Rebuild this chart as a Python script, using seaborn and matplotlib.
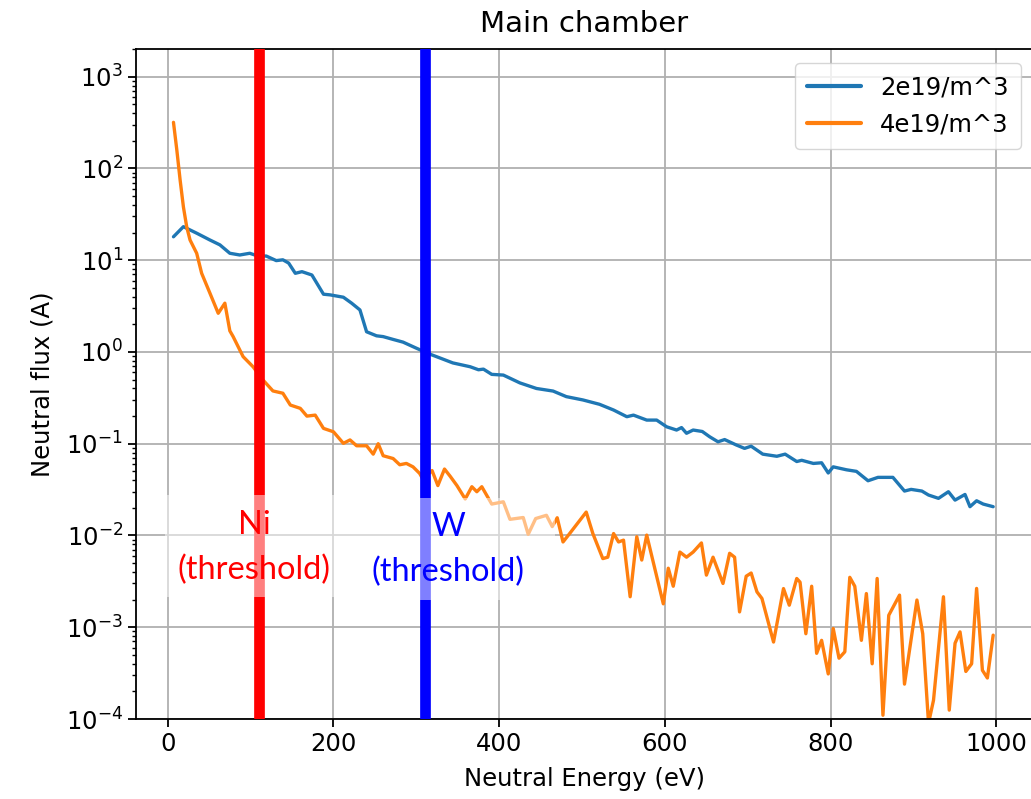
import matplotlib
matplotlib.use("Agg")
import matplotlib.pyplot as plt
from matplotlib.patches import Rectangle
from matplotlib.ticker import NullFormatter
import numpy as np
import pandas as pd
import seaborn as sns

# Neutral energy spectra in the main chamber for two upstream densities
energy_2e19 = [7, 19, 25, 35, 51, 63, 75, 87, 99, 109, 119, 131, 139, 146, 154, 162,
               174, 188, 196, 212, 222, 232, 240, 252, 260, 272, 284, 300, 316, 330,
               344, 365, 375, 381, 391, 405, 425, 445, 465, 481, 501, 521, 538, 554,
               562, 578, 590, 602, 614, 620, 626, 634, 645, 654, 664, 672, 686, 696,
               704, 718, 735, 745, 759, 765, 779, 789, 797, 803, 819, 831, 845, 857,
               875, 889, 897, 910, 918, 930, 942, 950, 962, 968, 976, 984, 996]
flux_2e19 = [18, 23.2, 21.8, 19.7, 16.6, 14.7, 11.9, 11.4, 11.9, 11.1, 11.1, 9.9, 10.1,
             9.3, 7.2, 7.5, 6.9, 4.26, 4.19, 3.95, 3.4, 2.87, 1.66, 1.5, 1.47, 1.37,
             1.28, 1.1, 0.95, 0.85, 0.76, 0.69, 0.64, 0.65, 0.57, 0.56, 0.46, 0.40,
             0.375, 0.326, 0.30, 0.269, 0.233, 0.197, 0.205, 0.181, 0.181, 0.153,
             0.141, 0.15, 0.13, 0.141, 0.136, 0.119, 0.105, 0.111, 0.097, 0.089,
             0.094, 0.077, 0.073, 0.077, 0.064, 0.066, 0.061, 0.062, 0.048, 0.056,
             0.052, 0.050, 0.0395, 0.043, 0.043, 0.0305, 0.0318, 0.0305, 0.0276,
             0.0254, 0.030, 0.0243, 0.028, 0.0206, 0.0239, 0.022, 0.0206]

energy_4e19 = [7, 11, 15, 19, 23, 27, 35, 41, 51, 61, 69, 75, 79, 91, 103, 115, 127,
               139, 148, 160, 168, 178, 188, 200, 212, 220, 228, 240, 248, 254, 260,
               272, 280, 288, 296, 304, 308, 319, 326, 334, 341, 349, 359, 367, 373,
               379, 391, 405, 413, 429, 435, 444, 457, 464, 470, 477, 485, 505, 513,
               525, 531, 538, 544, 550, 558, 566, 572, 578, 598, 604, 610, 618, 626,
               634, 644, 650, 658, 670, 678, 684, 690, 698, 704, 711, 717, 731, 743,
               750, 759, 763, 770, 777, 783, 789, 797, 803, 810, 817, 823, 829, 837,
               843, 850, 856, 863, 870, 883, 889, 904, 911, 918, 924, 936, 943, 950,
               956, 963, 970, 976, 983, 989, 996]
flux_4e19 = [318, 160, 75, 38, 23, 16.6, 11.9, 7.2, 4.37, 2.64, 3.4, 1.7, 1.47, 0.89,
             0.69, 0.495, 0.376, 0.355, 0.264, 0.243, 0.2, 0.205, 0.147, 0.135, 0.101,
             0.11, 0.095, 0.095, 0.077, 0.10, 0.074, 0.069, 0.059, 0.061, 0.056,
             0.0475, 0.041, 0.051, 0.035, 0.053, 0.044, 0.035, 0.025, 0.034, 0.030,
             0.034, 0.022, 0.0233, 0.015, 0.0157, 0.0103, 0.0153, 0.0166, 0.0125,
             0.0156, 0.0085, 0.0105, 0.018, 0.0105, 0.0056, 0.0058, 0.0105, 0.0085,
             0.0089, 0.00215, 0.0097, 0.0054, 0.0101, 0.0018, 0.0044, 0.0028, 0.0066,
             0.0058, 0.0066, 0.0083, 0.0037, 0.0058, 0.0030, 0.0064, 0.0058, 0.00147,
             0.0036, 0.0039, 0.00243, 0.00206, 0.00069, 0.00264, 0.00174, 0.0034,
             0.0031, 0.00085, 0.0028, 0.00052, 0.00072, 0.00031, 0.00097, 0.00046,
             0.00054, 0.0035, 0.0028, 0.00072, 0.00233, 0.0004, 0.0034, 0.00011,
             0.00135, 0.00224, 0.00024, 0.00198, 0.00085, 0.00009, 0.00016, 0.00215,
             0.000125, 0.00067, 0.00089, 0.00033, 0.0004, 0.00265, 0.00034, 0.00028,
             0.00082]

series_labels = ["2e19/m^3", "4e19/m^3"]
series_colors = ["#1f77b4", "#ff7f0e"]

# Sputtering thresholds (eV)
threshold_names = ["Ni", "W"]
threshold_energy = [110, 310]
threshold_colors = ["red", "blue"]

df = pd.concat([
    pd.DataFrame({"energy": energy_2e19, "flux": flux_2e19, "density": series_labels[0]}),
    pd.DataFrame({"energy": energy_4e19, "flux": flux_4e19, "density": series_labels[1]}),
], ignore_index=True)

sns.set_theme(style="ticks", rc={
    "axes.edgecolor": "black",
    "axes.linewidth": 1.3,
    "axes.labelcolor": "black",
    "xtick.color": "black",
    "ytick.color": "black",
    "xtick.major.size": 5.6,
    "ytick.major.size": 5.6,
    "ytick.minor.size": 3.2,
    "xtick.major.width": 1.3,
    "ytick.major.width": 1.3,
    "ytick.minor.width": 1.0,
    "text.color": "black",
})
plt.rcParams["font.family"] = ["DejaVu Sans"]

fig = plt.figure(figsize=(10.31, 7.99), dpi=100)
ax = fig.add_axes([0.1316, 0.1001, 0.8703, 0.8385])

sns.lineplot(data=df, x="energy", y="flux", hue="density", palette=series_colors,
             estimator=None, sort=False, linewidth=2.4, ax=ax)

for e, c in zip(threshold_energy, threshold_colors):
    ax.axvline(e, color=c, linewidth=7.7, zorder=3)

ax.set_yscale("log")
ax.set_ylim(1e-4, 2e3)
ax.set_xlim(-38.6, 1044)
ax.set_xticks([0, 200, 400, 600, 800, 1000])
ax.yaxis.set_minor_formatter(NullFormatter())
ax.grid(True, which="major", color="#b0b0b0", linewidth=1.3)
ax.tick_params(labelsize=17.5, labelcolor="black", color="black", which="both")

ax.set_xlabel("Neutral Energy (eV)", fontsize=17.5, color="black", labelpad=8)
ax.set_ylabel("Neutral flux (A)", fontsize=17.5, color="black", labelpad=8)
ax.set_title("Main chamber", fontsize=21, color="black", pad=12)

old = ax.get_legend()
handles = old.legend_handles
labels = [t.get_text() for t in old.get_texts()]
for h in handles:
    h.set_linewidth(3.0)
ax.legend(handles, labels, loc="upper right", fontsize=17.5, framealpha=0.8,
          handlelength=2.2, borderpad=0.5, labelspacing=0.55, borderaxespad=0,
          bbox_to_anchor=(0.9866, 0.979))

# Label boxes for the thresholds: translucent white panels with text
box_specs = [(165, 495, 178, 102), (343, 498, 212, 102)]
W, H = 1031, 799
for (x0, y0, w, h) in box_specs:
    fig.add_artist(Rectangle((x0 / W, 1 - (y0 + h) / H), w / W, h / H,
                             transform=fig.transFigure, facecolor="white",
                             alpha=0.5, edgecolor="none", zorder=5))

label_pos = [(254, 525, 570), (448, 527, 572)]
for name, c, (cx, y1, y2) in zip(threshold_names, threshold_colors, label_pos):
    fig.text(cx / W, 1 - y1 / H, name, color=c, fontsize=23.5, family="Lato",
             ha="center", va="center", zorder=6)
    fig.text(cx / W, 1 - y2 / H, "(threshold)", color=c, fontsize=23.5, family="Lato",
             ha="center", va="center", zorder=6)

fig.savefig("out.png", dpi=100)
